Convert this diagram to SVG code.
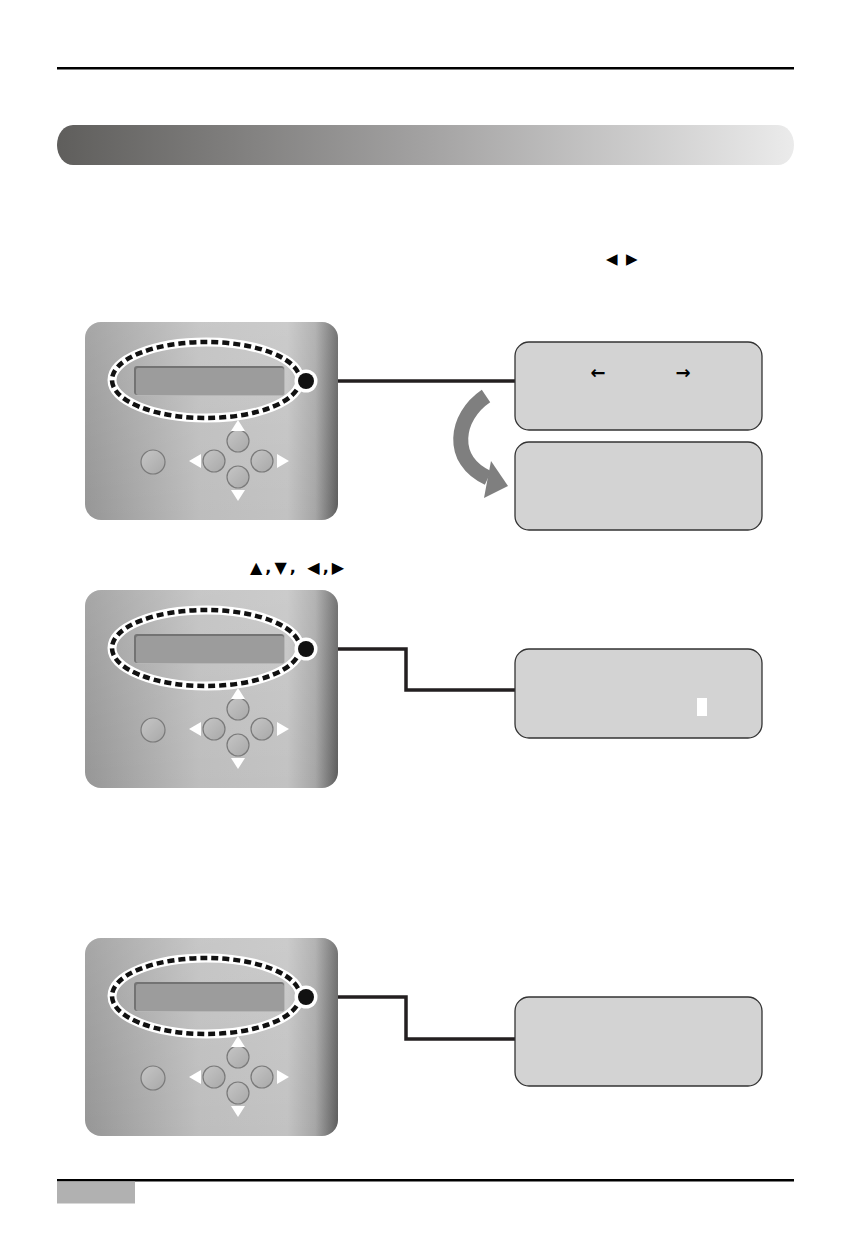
<svg xmlns="http://www.w3.org/2000/svg" width="851" height="1247" viewBox="0 0 851 1247">
<style>
.rule{fill:#000}
.box{fill:#d3d3d3;stroke:#333;stroke-width:1.3}
.conn{fill:none;stroke:#231f20;stroke-width:3.5}
.sym{font-family:"DejaVu Sans",sans-serif;fill:#000}
.btn{fill:url(#btnG);stroke:#7a7a7a;stroke-width:1.2}
.tri{fill:#fff}
</style>
<defs>
<linearGradient id="banG" x1="0" y1="0" x2="1" y2="0">
<stop offset="0" stop-color="#5f5e5c"/>
<stop offset="0.5" stop-color="#a3a2a2"/>
<stop offset="1" stop-color="#ebebeb"/>
</linearGradient>
<linearGradient id="panG" x1="0" y1="0" x2="1" y2="0">
<stop offset="0" stop-color="#969696"/>
<stop offset="0.45" stop-color="#bdbdbd"/>
<stop offset="0.8" stop-color="#c2c2c2"/>
<stop offset="0.91" stop-color="#a6a6a6"/>
<stop offset="1" stop-color="#5c5c5c"/>
</linearGradient>
<linearGradient id="panV" x1="0" y1="0" x2="0" y2="1">
<stop offset="0" stop-color="#fff" stop-opacity="0.15"/>
<stop offset="1" stop-color="#fff" stop-opacity="0"/>
</linearGradient>
<linearGradient id="btnG" x1="0" y1="0" x2="1" y2="1">
<stop offset="0" stop-color="#c6c6c6"/>
<stop offset="1" stop-color="#a8a8a8"/>
</linearGradient>
<g id="panel">
<rect x="0" y="0" width="253" height="198" rx="16" fill="url(#panG)"/>
<rect x="0" y="0" width="253" height="198" rx="16" fill="url(#panV)"/>
<rect x="49" y="44" width="151" height="30" rx="3" fill="#b6b6b6"/>
<rect x="49" y="44" width="150" height="29" rx="3" fill="#737373"/>
<rect x="51" y="46" width="148" height="27" rx="2" fill="#9c9c9c"/>
<ellipse cx="121" cy="58" rx="94" ry="38" fill="none" stroke="#fff" stroke-width="9"/>
<ellipse cx="121" cy="58" rx="94" ry="38" fill="none" stroke="#111" stroke-width="4.5" stroke-dasharray="7 4"/>
<circle cx="221" cy="59" r="11.5" fill="#fff"/>
<circle cx="221" cy="59" r="8" fill="#111"/>
<circle class="btn" cx="68" cy="140" r="12"/>
<circle class="btn" cx="153" cy="119" r="11"/>
<circle class="btn" cx="129" cy="139" r="11"/>
<circle class="btn" cx="177" cy="139" r="11"/>
<circle class="btn" cx="153" cy="155" r="11"/>
<polygon class="tri" points="153,98 146,109 160,109"/>
<polygon class="tri" points="146,168 160,168 153,179"/>
<polygon class="tri" points="104,139 116,132 116,146"/>
<polygon class="tri" points="204,139 192,132 192,146"/>
</g>
</defs>

<g id="header">
<rect class="rule" x="57" y="67" width="737" height="2.5"/>
<rect x="57" y="125" width="737" height="40" rx="16" ry="20" fill="url(#banG)"/>
</g>

<g id="intro-symbols">
<text class="sym" x="606" y="264" font-size="15">◀</text>
<text class="sym" x="626" y="264" font-size="15">▶</text>
<text class="sym" x="250" y="573" font-size="16" font-weight="bold" letter-spacing="3">▲,▼, ◀,▶</text>
</g>

<g id="connectors">
<line class="conn" x1="306" y1="381" x2="515" y2="381"/>
<polyline class="conn" points="306,649 406,649 406,690 515,690"/>
<polyline class="conn" points="306,997 406,997 406,1039 515,1039"/>
<path d="M486 396 C455 417 449 460 488 478" fill="none" stroke="#7f7f7f" stroke-width="15"/>
<polygon points="491,461 508,486 484,498" fill="#7f7f7f"/>
</g>

<g id="panel1"><use href="#panel" transform="translate(85,322)"/></g>
<g id="panel2"><use href="#panel" transform="translate(85,590)"/></g>
<g id="panel3"><use href="#panel" transform="translate(85,938)"/></g>

<g id="box1">
<rect class="box" x="515" y="342" width="247" height="88" rx="14"/>
<text class="sym" x="598" y="379" font-size="18" font-weight="bold" text-anchor="middle">←</text>
<text class="sym" x="683" y="379" font-size="18" font-weight="bold" text-anchor="middle">→</text>
</g>
<g id="box2"><rect class="box" x="515" y="442" width="247" height="88" rx="14"/></g>
<g id="box3">
<rect class="box" x="515" y="649" width="247" height="89" rx="14"/>
<rect x="697" y="698" width="10" height="18" fill="#fff"/>
</g>
<g id="box4"><rect class="box" x="515" y="997" width="247" height="89" rx="14"/></g>

<g id="footer">
<rect class="rule" x="57" y="1179" width="737" height="2.5"/>
<rect x="57" y="1181.5" width="78" height="22" fill="#b1b1b1"/>
</g>
</svg>
